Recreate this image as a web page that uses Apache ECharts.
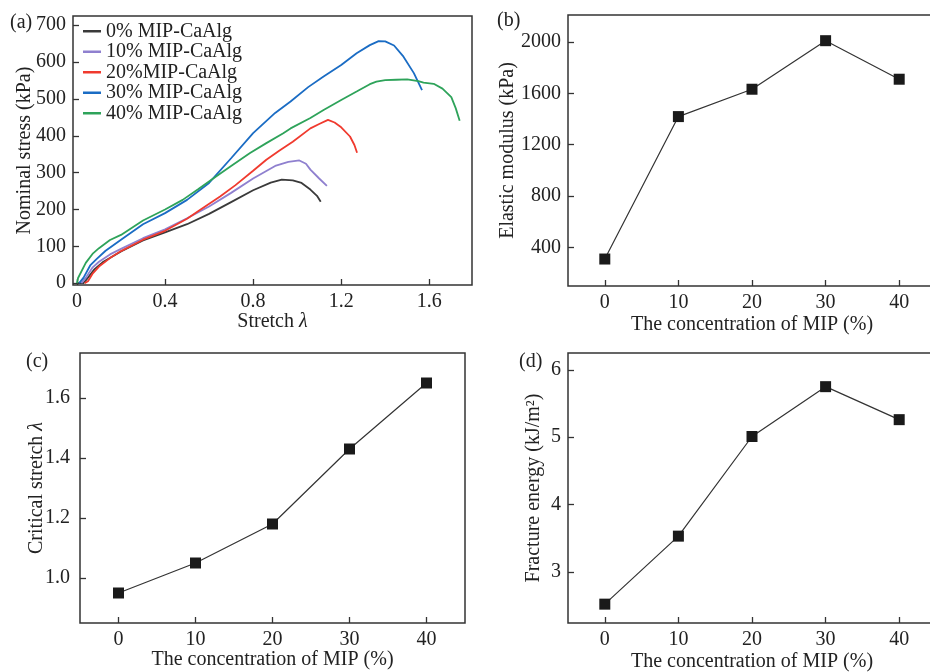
<!DOCTYPE html>
<html>
<head>
<meta charset="utf-8">
<script src="https://cdn.jsdelivr.net/npm/echarts@6/dist/echarts.min.js"></script>
<style>
html,body{margin:0;padding:0;background:#fff;}
#chart{width:930px;height:672px;}
</style>
</head>
<body>
<div id="chart"></div>
<script>
// ---------- Panel (a): nominal stress vs stretch ----------
const stressNames = ['0% MIP-CaAlg', '10% MIP-CaAlg', '20%MIP-CaAlg', '30% MIP-CaAlg', '40% MIP-CaAlg'];
const stressColors = ['#3a3a3a', '#8f80cf', '#f03a2e', '#1a6cc4', '#2ea35a'];
const curve0 = [[0,0],[0.03,0],[0.05,15],[0.08,38],[0.12,58],[0.2,86],[0.3,116],[0.4,138],[0.5,160],[0.6,188],[0.7,220],[0.8,252],[0.88,273],[0.93,281],[0.98,279],[1.02,272],[1.06,254],[1.09,237],[1.107,221]];
const curve10 = [[0.02,0],[0.04,15],[0.07,42],[0.1,58],[0.15,78],[0.2,93],[0.3,122],[0.4,146],[0.5,176],[0.6,208],[0.7,245],[0.8,284],[0.9,318],[0.96,329],[1.01,333],[1.04,324],[1.06,308],[1.1,284],[1.135,264]];
const curve20 = [[0.035,0],[0.05,5],[0.07,25],[0.1,45],[0.15,68],[0.2,87],[0.3,118],[0.4,142],[0.5,175],[0.56,199],[0.65,235],[0.72,266],[0.8,305],[0.86,335],[0.92,360],[0.98,384],[1.06,420],[1.1,432],[1.14,443],[1.17,436],[1.2,423],[1.24,398],[1.26,375],[1.272,354]];
const curve30 = [[0.01,0],[0.03,15],[0.06,48],[0.09,66],[0.13,88],[0.2,118],[0.3,160],[0.4,190],[0.5,226],[0.6,272],[0.7,339],[0.8,407],[0.9,462],[0.97,493],[1.05,532],[1.12,561],[1.2,592],[1.27,624],[1.33,646],[1.37,657],[1.4,656],[1.44,645],[1.48,617],[1.53,570],[1.567,524]];
const curve40 = [[0.0,0],[0.005,14],[0.04,55],[0.073,81],[0.1,95],[0.15,117],[0.2,131],[0.3,170],[0.4,200],[0.48,226],[0.55,255],[0.63,289],[0.7,318],[0.786,353],[0.86,380],[0.937,407],[0.97,420],[1.06,448],[1.12,470],[1.2,497],[1.27,520],[1.33,540],[1.36,547],[1.4,551],[1.45,552],[1.5,553],[1.55,548],[1.574,544],[1.62,541],[1.66,528],[1.7,505],[1.72,475],[1.738,441]];
const stressCurves = [curve0, curve10, curve20, curve30, curve40];
const stretchTicks = [0, 0.4, 0.8, 1.2, 1.6];
const stressTicks = [0, 100, 200, 300, 400, 500, 600, 700];

// ---------- Panels (b)-(d) ----------
const mipConc = [0, 10, 20, 30, 40];
const mipTicks = [0, 10, 20, 30, 40];
const elasticModulus = [310, 1419, 1632, 2010, 1710];
const elasticTicks = [400, 800, 1200, 1600, 2000];
const criticalStretch = [0.95, 1.05, 1.18, 1.43, 1.65];
const criticalTicks = [1.0, 1.2, 1.4, 1.6];
const fractureEnergy = [2.52, 3.53, 5.01, 5.75, 5.26];
const fractureTicks = [3, 4, 5, 6];

const FONT = 'Liberation Serif';
const FS = 20;
const TXT = '#222';
const AX = '#333';

function grid(l, t, r, b) {
  return { left: l, top: t, right: r, bottom: b, show: true, borderColor: AX, borderWidth: 1.5,
           backgroundColor: 'transparent', containLabel: false, outerBoundsMode: 'none' };
}
function axis(gi, min, max, ticks, fmt, name, nameGap, margin) {
  return {
    type: 'value', gridIndex: gi, min: min, max: max,
    splitLine: { show: false },
    axisLine: { show: false, onZero: false },
    axisTick: { show: true, inside: true, length: 6, customValues: ticks, lineStyle: { color: AX, width: 1.3 } },
    axisLabel: { show: true, customValues: ticks, margin: margin, formatter: fmt,
                 fontFamily: FONT, fontSize: FS, color: TXT },
    name: name, nameLocation: 'middle', nameGap: nameGap, nameMoveOverlap: false,
    nameTextStyle: { fontFamily: FONT, fontSize: FS, color: TXT,
                     rich: { i: { fontFamily: FONT, fontSize: FS, fontStyle: 'italic', color: TXT } } }
  };
}
const plain = v => String(v);

const series = [];
stressCurves.forEach((c, i) => {
  series.push({ name: stressNames[i], type: 'line', xAxisIndex: 0, yAxisIndex: 0, data: c,
    showSymbol: false, symbol: 'none', color: stressColors[i],
    lineStyle: { width: 1.8, color: stressColors[i] } });
});
function ptSeries(idx, vals) {
  return { type: 'line', xAxisIndex: idx, yAxisIndex: idx,
    data: mipConc.map((x, k) => [x, vals[k]]),
    symbol: 'rect', symbolSize: 11, showSymbol: true,
    lineStyle: { color: '#333', width: 1.2 }, itemStyle: { color: '#1a1a1a' } };
}
series.push(ptSeries(1, elasticModulus));
series.push(ptSeries(2, criticalStretch));
series.push(ptSeries(3, fractureEnergy));

const option = {
  animation: false,
  backgroundColor: '#fff',
  grid: [
    grid(73, 16, 458, 387),
    grid(568, 15, -6, 386),
    grid(80, 353, 465, 49),
    grid(568, 353, -6, 49)
  ],
  xAxis: [
    axis(0, -0.018, 1.794, stretchTicks, plain, 'Stretch {i|λ}', 27, 7),
    axis(1, -5, 45, mipTicks, plain, 'The concentration of MIP (%)', 29, 7),
    axis(2, -5, 45, mipTicks, plain, 'The concentration of MIP (%)', 27, 7),
    axis(3, -5, 45, mipTicks, plain, 'The concentration of MIP (%)', 29, 7)
  ],
  yAxis: [
    axis(0, -5, 725, stressTicks, plain, 'Nominal stress (kPa)', 38, 7),
    axis(1, 100, 2210, elasticTicks, plain, 'Elastic modulus (kPa)', 50, 7),
    axis(2, 0.85, 1.75, criticalTicks, v => Number(v).toFixed(1), 'Critical stretch {i|λ}', 33, 10),
    axis(3, 2.24, 6.25, fractureTicks, plain, 'Fracture energy (kJ/m²)', 24, 7)
  ],
  legend: {
    data: stressNames, orient: 'vertical', left: 78, top: 16,
    icon: 'rect', itemWidth: 18, itemHeight: 2.5, itemGap: 0,
    textStyle: { fontFamily: FONT, fontSize: FS, color: TXT, lineHeight: 20.5 },
    selectedMode: false
  },
  graphic: [
    { type: 'text', left: 10, top: 13, style: { text: '(a)', font: '20px "Liberation Serif"', fill: TXT } },
    { type: 'text', left: 497, top: 11, style: { text: '(b)', font: '20px "Liberation Serif"', fill: TXT } },
    { type: 'text', left: 26, top: 352, style: { text: '(c)', font: '20px "Liberation Serif"', fill: TXT } },
    { type: 'text', left: 519, top: 352, style: { text: '(d)', font: '20px "Liberation Serif"', fill: TXT } }
  ],
  series: series
};
const chart = echarts.init(document.getElementById('chart'), null, { renderer: 'canvas' });
chart.setOption(option);
</script>
</body>
</html>
